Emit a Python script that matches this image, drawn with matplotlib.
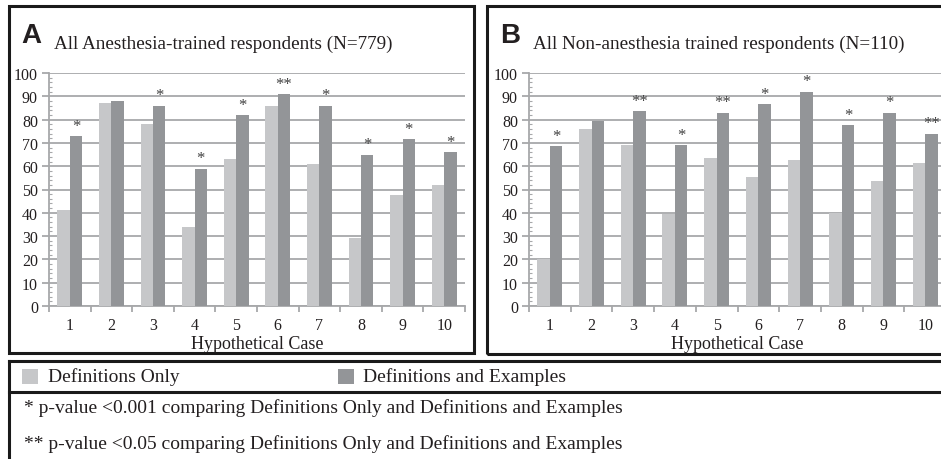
import matplotlib
matplotlib.use("Agg")
import matplotlib.pyplot as plt
from matplotlib.patches import Rectangle
from matplotlib.lines import Line2D
import numpy as np

# ---- data ----
cases = ["1", "2", "3", "4", "5", "6", "7", "8", "9", "10"]
a_def_only = [41, 87, 78, 34, 63, 86, 61, 29, 47.5, 52]
a_def_examples = [73, 88, 86, 59, 82, 91, 86, 65, 71.5, 66]
a_sig = ["*", "", "*", "*", "*", "**", "*", "*", "*", "*"]
b_def_only = [20, 76, 69, 39.5, 63.5, 55.5, 62.5, 40, 53.5, 61.5]
b_def_examples = [68.5, 79.5, 83.5, 69, 83, 86.5, 92, 77.5, 83, 74]
b_sig = ["*", "", "**", "*", "**", "*", "*", "*", "*", "**"]
title_a = "All Anesthesia-trained respondents (N=779)"
title_b = "All Non-anesthesia trained respondents (N=110)"
legend_labels = ["Definitions Only", "Definitions and Examples"]
foot1 = "* p-value <0.001 comparing Definitions Only and Definitions and Examples"
foot2 = "** p-value <0.05 comparing Definitions Only and Definitions and Examples"
xlabel = "Hypothetical Case"
yticks = list(range(0, 101, 10))

LIGHT = "#c6c7c9"
DARK = "#939598"
GRID = "#a7a8aa"
TXT = "#231f20"
SERIF = ["Liberation Serif", "DejaVu Serif"]
SANS = ["Liberation Sans", "DejaVu Sans"]

W, H = 941, 460
fig = plt.figure(figsize=(W / 100, H / 100), dpi=100)


def fx(x):
    return x / W


def fy(y):
    return 1 - y / H


def ax_at(x0, x1, y0, y1):
    return fig.add_axes([fx(x0), fy(y1), fx(x1) - fx(x0), fy(y0) - fy(y1)])


def panel(ax, s1, s2, sig):
    x = np.arange(len(cases))
    w = 0.3
    ax.bar(x - w / 2, s1, width=w, color=LIGHT, zorder=3, linewidth=0)
    ax.bar(x + w / 2, s2, width=w, color=DARK, zorder=3, linewidth=0)
    for xi, v, s in zip(x, s2, sig):
        if s:
            ax.text(xi + w / 2, v + 1.0, s, ha="center", va="bottom",
                    fontsize=12, family=SERIF, color="#404040", zorder=4)
    ax.set_xlim(-0.5, len(cases) - 0.5)
    ax.set_ylim(0, 100)
    ax.set_yticks(yticks)
    ax.set_yticks(np.arange(0, 101, 2), minor=True)
    ax.yaxis.grid(True, color=GRID, linewidth=1.3, zorder=0)
    ax.set_axisbelow(True)
    ax.set_xticks(x)
    ax.set_xticklabels(cases)
    ax.set_xticks(np.arange(-0.5, len(cases), 1.0), minor=True)
    ax.tick_params(axis="x", which="major", length=0, pad=8, labelsize=11.5,
                   labelcolor=TXT)
    ax.tick_params(axis="x", which="minor", length=4, width=1.3, color=GRID,
                   direction="out")
    ax.tick_params(axis="y", which="major", length=5, width=1.3, color=GRID,
                   direction="out", labelsize=11.5, labelcolor=TXT, pad=3)
    ax.tick_params(axis="y", which="minor", length=2.5, width=0.8, color=GRID,
                   direction="in")
    for lab in ax.get_xticklabels() + ax.get_yticklabels():
        lab.set_family(SERIF)
    for side in ["top", "right"]:
        ax.spines[side].set_visible(False)
    for side in ["left", "bottom"]:
        ax.spines[side].set_color(GRID)
        ax.spines[side].set_linewidth(1.3)
    ax.set_facecolor("none")


axA = ax_at(49, 465, 74, 307)
panel(axA, a_def_only, a_def_examples, a_sig)
axB = ax_at(529, 946, 74, 307)
panel(axB, b_def_only, b_def_examples, b_sig)

# axis titles
fig.text(fx(257), fy(345), xlabel, ha="center", va="center", fontsize=13,
         family=SERIF, color=TXT)
fig.text(fx(737), fy(345), xlabel, ha="center", va="center", fontsize=13,
         family=SERIF, color=TXT)

# panel letters and titles
fig.text(fx(21), fy(36), "A", ha="left", va="center", fontsize=20,
         family=SANS, weight="bold", color=TXT)
fig.text(fx(54), fy(44), title_a, ha="left", va="center", fontsize=13.8,
         family=SERIF, color=TXT)
fig.text(fx(500), fy(36), "B", ha="left", va="center", fontsize=20,
         family=SANS, weight="bold", color=TXT)
fig.text(fx(533), fy(44), title_b, ha="left", va="center", fontsize=13.8,
         family=SERIF, color=TXT)

# borders
BW = 2.2
fig.add_artist(Rectangle((fx(9), fy(354)), fx(474) - fx(9), fy(7) - fy(354),
                         transform=fig.transFigure, fill=False,
                         edgecolor="#1a1a1a", linewidth=BW))
fig.add_artist(Rectangle((fx(487), fy(355)), fx(960) - fx(487), fy(7) - fy(355),
                         transform=fig.transFigure, fill=False,
                         edgecolor="#1a1a1a", linewidth=BW))
fig.add_artist(Line2D([fx(9), fx(960)], [fy(362), fy(362)],
                      transform=fig.transFigure, color="#1a1a1a", linewidth=BW))
fig.add_artist(Line2D([fx(9), fx(960)], [fy(393), fy(393)],
                      transform=fig.transFigure, color="#1a1a1a", linewidth=BW))
fig.add_artist(Line2D([fx(9), fx(9)], [fy(362), fy(470)],
                      transform=fig.transFigure, color="#1a1a1a", linewidth=BW))

# legend
fig.add_artist(Rectangle((fx(22), fy(385)), fx(38) - fx(22), fy(370) - fy(385),
                         transform=fig.transFigure, facecolor=LIGHT,
                         edgecolor="none"))
fig.text(fx(48), fy(377), legend_labels[0], ha="left", va="center",
         fontsize=14, family=SERIF, color=TXT)
fig.add_artist(Rectangle((fx(338), fy(385)), fx(354) - fx(338), fy(370) - fy(385),
                         transform=fig.transFigure, facecolor=DARK,
                         edgecolor="none"))
fig.text(fx(363), fy(377), legend_labels[1], ha="left", va="center",
         fontsize=14, family=SERIF, color=TXT)

# footnotes
fig.text(fx(24), fy(408), foot1, ha="left", va="center", fontsize=14,
         family=SERIF, color=TXT)
fig.text(fx(24), fy(444), foot2, ha="left", va="center", fontsize=14,
         family=SERIF, color=TXT)

fig.savefig("out.png", dpi=100)
